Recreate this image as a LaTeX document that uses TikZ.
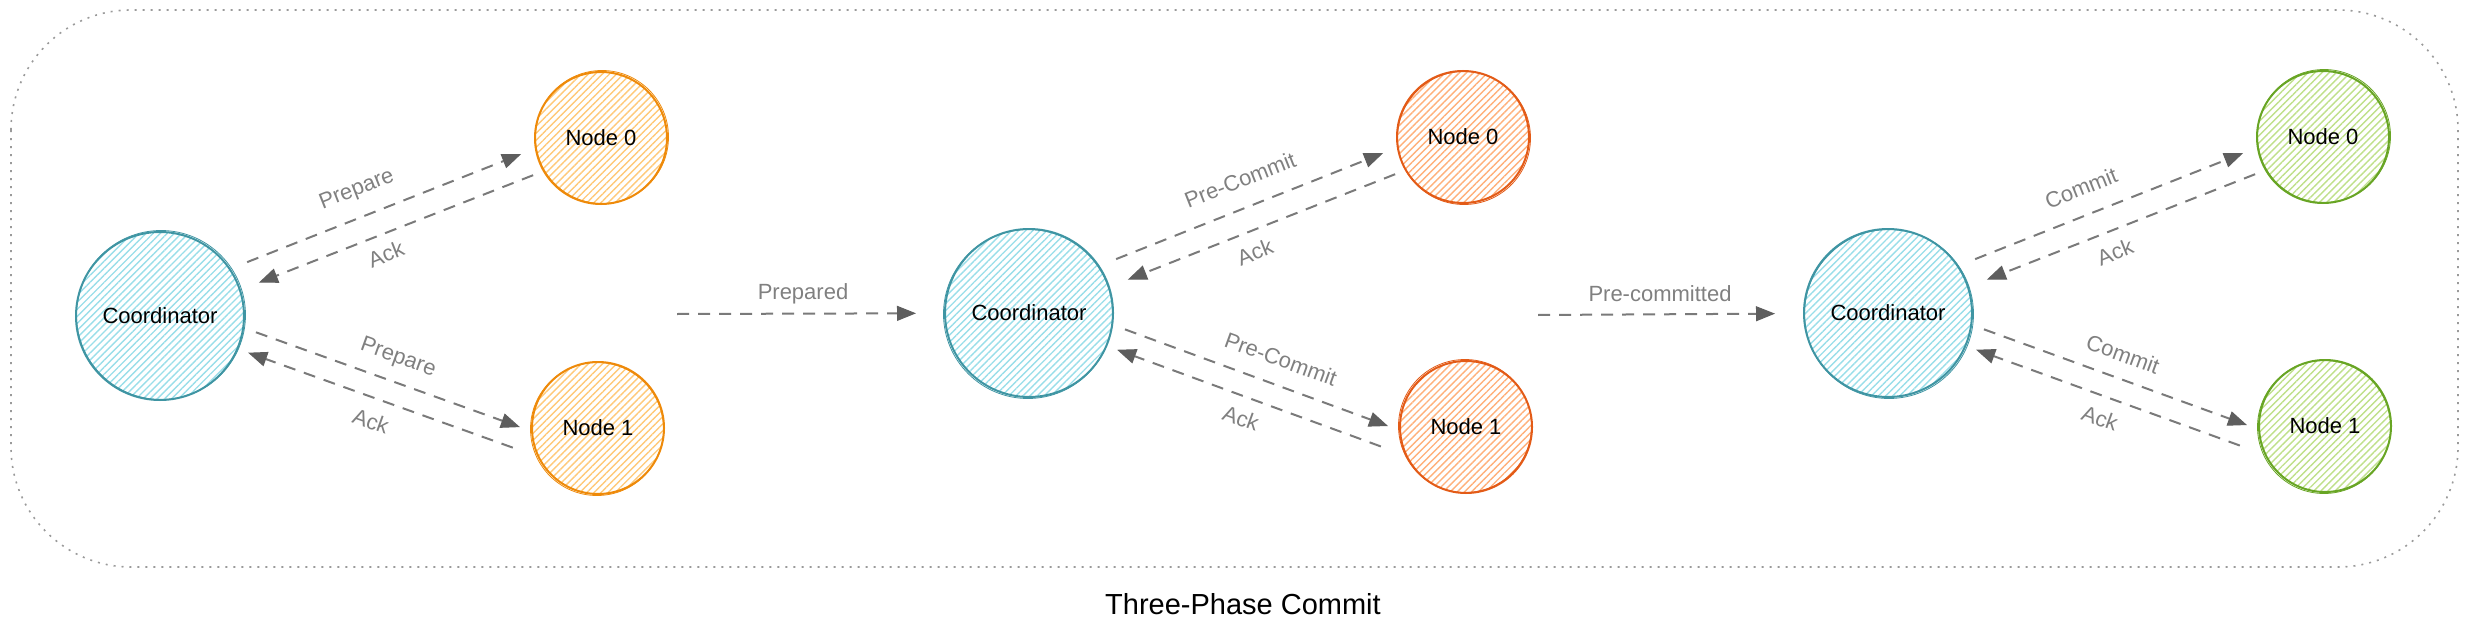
\documentclass[tikz,border=0pt]{standalone}
\usepackage{fontspec}
\setmainfont{Liberation Sans}
\usetikzlibrary{arrows.meta,patterns.meta}
\definecolor{coordstroke}{HTML}{3F95A3}
\definecolor{coordhatch}{HTML}{99DEE9}
\definecolor{orstroke}{HTML}{EE8A0A}
\definecolor{orhatch}{HTML}{FFC978}
\definecolor{rdstroke}{HTML}{E35B17}
\definecolor{rdhatch}{HTML}{FFB07A}
\definecolor{grstroke}{HTML}{68A524}
\definecolor{grhatch}{HTML}{BFE08A}
\definecolor{linegray}{HTML}{7A7A7A}
\definecolor{tipgray}{HTML}{5E5E5E}
\definecolor{labelgray}{HTML}{808080}
\definecolor{bordergray}{HTML}{9A9A9A}
\begin{document}
\begin{tikzpicture}[x=1pt,y=-1pt,
  every node/.style={font=\fontsize{22}{26}\selectfont},
  bubble/.style={circle, inner sep=0pt, outer sep=0pt, line width=2pt, text=black},
  coord/.style={bubble, minimum size=168pt, draw=coordstroke,
    pattern={Lines[angle=45,distance=5pt,line width=1.4pt]}, pattern color=coordhatch},
  ornode/.style={bubble, minimum size=132pt, draw=orstroke,
    pattern={Lines[angle=45,distance=5pt,line width=1.4pt]}, pattern color=orhatch},
  rdnode/.style={bubble, minimum size=132pt, draw=rdstroke,
    pattern={Lines[angle=45,distance=5pt,line width=1.4pt]}, pattern color=rdhatch},
  grnode/.style={bubble, minimum size=132pt, draw=grstroke,
    pattern={Lines[angle=45,distance=5pt,line width=1.4pt]}, pattern color=grhatch},
  sk/.style={line width=0.8pt},
  arr/.style={draw=linegray, line width=2pt, dash pattern=on 12pt off 9pt,
    -{Triangle[length=19pt,width=15pt,color=tipgray,line width=1pt]}},
  lbl/.style={text=labelgray, inner sep=0pt},
  ttl/.style={font=\fontsize{29}{34}\selectfont, text=black},
  border/.style={draw=bordergray, line width=1.6pt, dash pattern=on 2pt off 6pt, rounded corners=120pt}
]
\useasboundingbox (0,0) rectangle (2469,634);
\draw[border] (11,10) rectangle (2458,567);

% column 1
\node[coord] (c1) at (160,316) {Coordinator};
\node[ornode] (a1) at (601,138) {Node 0};
\node[ornode] (b1) at (598,428) {Node 1};
% column 2
\node[coord] (c2) at (1029,313) {Coordinator};
\node[rdnode] (a2) at (1463,137) {Node 0};
\node[rdnode] (b2) at (1466,427) {Node 1};
% column 3
\node[coord] (c3) at (1888,313) {Coordinator};
\node[grnode] (a3) at (2323,137) {Node 0};
\node[grnode] (b3) at (2325,426) {Node 1};

% sketchy second strokes
\draw[sk, coordstroke] (c1.center) ++(1,-1) circle[radius=84.5];
\draw[sk, coordstroke] (c2.center) ++(-1,1) circle[radius=84.5];
\draw[sk, coordstroke] (c3.center) ++(1,1) circle[radius=84.5];
\draw[sk, orstroke] (a1.center) ++(1,-1) circle[radius=66.5];
\draw[sk, orstroke] (b1.center) ++(-1,1) circle[radius=66.5];
\draw[sk, rdstroke] (a2.center) ++(1,1) circle[radius=66.5];
\draw[sk, rdstroke] (b2.center) ++(-1,-1) circle[radius=66.5];
\draw[sk, grstroke] (a3.center) ++(1,-1) circle[radius=66.5];
\draw[sk, grstroke] (b3.center) ++(-1,1) circle[radius=66.5];

% arrows column 1
\draw[arr, shorten <=18.8pt, shorten >=15.9pt] (c1.34) -- (a1.189);
\draw[arr, shorten <=11.5pt, shorten >=20.4pt] (a1.210) -- (c1.18);
\draw[arr, shorten <=13.6pt, shorten >=12.9pt] (c1.352) -- (b1.183);
\draw[arr, shorten <=27.5pt, shorten >=11.5pt] (b1.206) -- (c1.337);
% arrows column 2
\draw[arr, shorten <=18.8pt, shorten >=15.9pt] (c2.34) -- (a2.189);
\draw[arr, shorten <=11.5pt, shorten >=20.4pt] (a2.210) -- (c2.18);
\draw[arr, shorten <=13.6pt, shorten >=12.9pt] (c2.352) -- (b2.183);
\draw[arr, shorten <=27.5pt, shorten >=11.5pt] (b2.206) -- (c2.337);
% arrows column 3
\draw[arr, shorten <=18.8pt, shorten >=15.9pt] (c3.34) -- (a3.189);
\draw[arr, shorten <=11.5pt, shorten >=20.4pt] (a3.210) -- (c3.18);
\draw[arr, shorten <=13.6pt, shorten >=12.9pt] (c3.352) -- (b3.183);
\draw[arr, shorten <=27.5pt, shorten >=11.5pt] (b3.206) -- (c3.337);

% phase transitions
\coordinate (ps) at (677,314);
\coordinate (qs) at (1538,315);
\draw[arr, shorten >=29pt] (ps) -- (c2);
\draw[arr, shorten >=29pt] (qs) -- (c3);

% labels
\node[lbl, rotate=21.5] (l1) at (357,190) {Prepare};
\node[lbl, rotate=21.5] (l2) at (386,254) {Ack};
\node[lbl, rotate=-19.8] (l3) at (398,358) {Prepare};
\node[lbl, rotate=-19.8] (l4) at (371,421) {Ack};
\node[lbl] (l5) at (803,294) {Prepared};
\node[lbl, rotate=21.5] (l6) at (1240,180) {Pre-Commit};
\node[lbl, rotate=21.5] (l7) at (1255,252) {Ack};
\node[lbl, rotate=-19.9] (l8) at (1281,359) {Pre-Commit};
\node[lbl, rotate=-19.9] (l9) at (1241,418) {Ack};
\node[lbl] (l10) at (1660,294) {Pre-committed};
\node[lbl, rotate=21.8] (l11) at (2081,188) {Commit};
\node[lbl, rotate=21.8] (l12) at (2115,252) {Ack};
\node[lbl, rotate=-20.1] (l13) at (2123,354) {Commit};
\node[lbl, rotate=-20.1] (l14) at (2100,418) {Ack};

\node[ttl] (t) at (1243,604) {Three-Phase Commit};
\end{tikzpicture}
\end{document}
